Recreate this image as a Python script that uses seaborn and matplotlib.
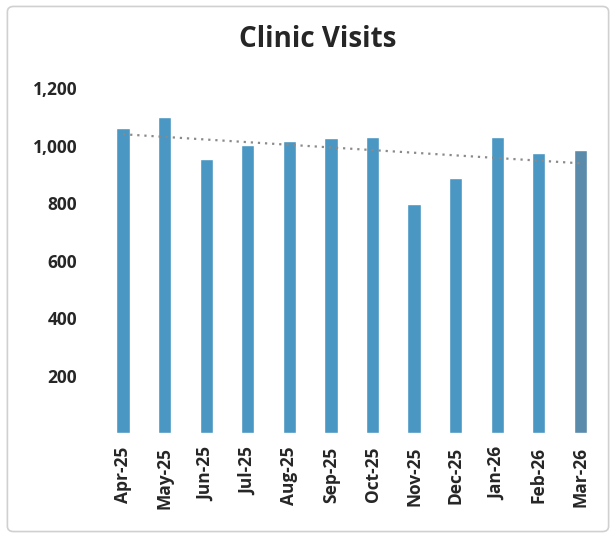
import numpy as np
import pandas as pd
import matplotlib
matplotlib.use("Agg")
import matplotlib.pyplot as plt
import seaborn as sns
from matplotlib.patches import FancyBboxPatch

months = ['Apr-25', 'May-25', 'Jun-25', 'Jul-25', 'Aug-25', 'Sep-25',
          'Oct-25', 'Nov-25', 'Dec-25', 'Jan-26', 'Feb-26', 'Mar-26']
visits = [1060, 1100, 955, 1003, 1017, 1028, 1031, 796, 889, 1031, 976, 986]
y_ticks = [200, 400, 600, 800, 1000, 1200]

sns.set_theme(style="white")
plt.rcParams['font.family'] = ['Open Sans', 'DejaVu Sans']

df = pd.DataFrame({'month': months, 'visits': visits})

fig = plt.figure(figsize=(6.16, 5.38), dpi=100)
ax = fig.add_axes([0.166, 0.195, 0.81, 0.641])

colors = ['#4a97c3'] * 11 + ['#5a8bab']
sns.barplot(data=df, x='month', y='visits', hue='month', palette=colors,
            legend=False, width=0.32, saturation=1, ax=ax)

# linear trendline (as in the Excel chart)
xs = np.arange(len(visits))
slope, icpt = np.polyfit(xs, visits, 1)
ax.plot(xs, slope * xs + icpt, linestyle=(0, (1, 2.2)), color='#8a8a8a', linewidth=1.6)

ax.set_ylim(0, 1200)
ax.set_xlim(-0.5, len(months) - 0.5)
ax.set_yticks(y_ticks)
ax.set_yticklabels([f'{v:,}' for v in y_ticks], fontsize=12.5, fontweight='bold', color='#262626')
ax.set_xticks(xs)
ax.set_xticklabels(months, rotation=90, fontsize=12.5, fontweight='bold', color='#262626')
ax.tick_params(axis='y', length=0, pad=18)
ax.tick_params(axis='x', length=0, pad=10)
ax.set_xlabel('')
ax.set_ylabel('')
sns.despine(ax=ax, left=True, bottom=True)

fig.text(0.515, 0.926, 'Clinic Visits', ha='center', va='center',
         fontsize=20, fontweight='bold', color='#262626')

# chart border
fig.patches.append(FancyBboxPatch((0.012, 0.012), 0.976, 0.976,
                                  boxstyle='round,pad=0,rounding_size=0.01',
                                  transform=fig.transFigure, fill=False,
                                  edgecolor='#d0d0d0', linewidth=1.2))

fig.savefig('out.png', dpi=100)
